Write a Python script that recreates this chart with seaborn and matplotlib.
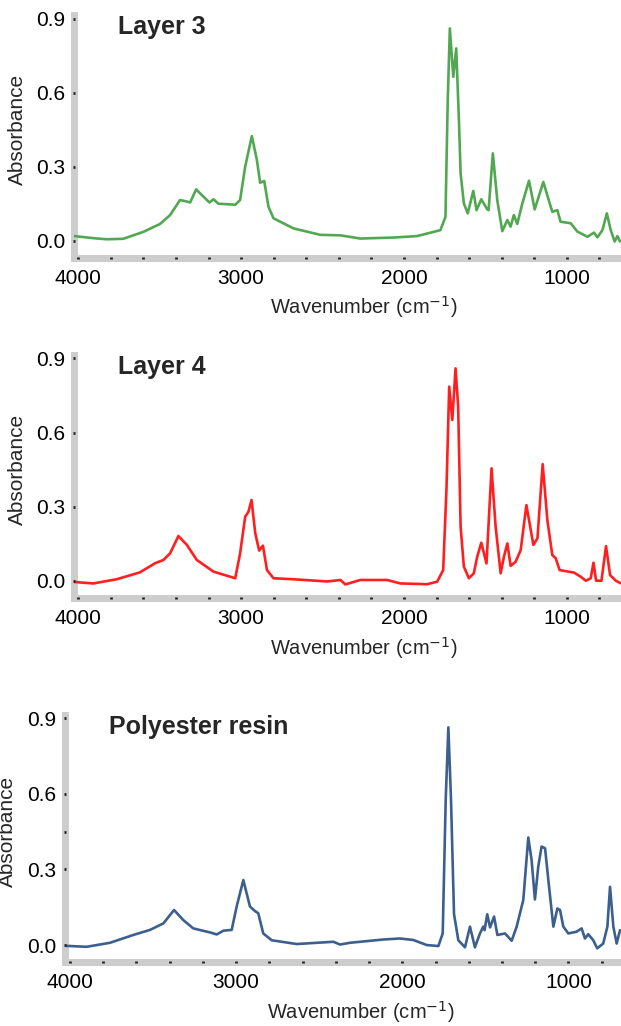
import numpy as np
import pandas as pd
import matplotlib
matplotlib.use("Agg")
import matplotlib.pyplot as plt
from matplotlib.ticker import MultipleLocator, FixedLocator
import seaborn as sns

# spectra (wavenumber in cm-1, absorbance)
layer3_wn = [4026, 3900, 3825, 3723, 3600, 3498, 3436, 3375, 3340, 3313, 3276, 3241, 3194, 3170,
             3139, 3036, 3006, 2975, 2934, 2903, 2883, 2858, 2832, 2801, 2678, 2514, 2391, 2268,
             2063, 1919, 1776, 1745, 1731, 1718, 1697, 1679, 1663, 1652, 1632, 1608, 1574, 1554,
             1525, 1488, 1480, 1454, 1427, 1396, 1365, 1345, 1325, 1304, 1273, 1232, 1197, 1144,
             1089, 1058, 1038, 976, 935, 873, 833, 812, 781, 754, 730, 706, 689, 673]
layer3_abs = [0.019, 0.010, 0.006, 0.008, 0.036, 0.068, 0.104, 0.165, 0.160, 0.155, 0.208, 0.185,
              0.155, 0.168, 0.150, 0.146, 0.165, 0.300, 0.424, 0.327, 0.235, 0.242, 0.138, 0.091,
              0.050, 0.024, 0.022, 0.009, 0.013, 0.019, 0.043, 0.097, 0.570, 0.860, 0.664, 0.779,
              0.502, 0.273, 0.151, 0.111, 0.202, 0.124, 0.168, 0.127, 0.124, 0.354, 0.165, 0.039,
              0.084, 0.057, 0.104, 0.068, 0.151, 0.243, 0.127, 0.238, 0.117, 0.124, 0.077, 0.071,
              0.037, 0.016, 0.033, 0.014, 0.043, 0.111, 0.043, -0.003, 0.019, -0.003]

layer4_wn = [4026, 3908, 3764, 3621, 3528, 3477, 3436, 3385, 3333, 3272, 3170, 3036, 3006, 2975,
             2955, 2936, 2913, 2889, 2866, 2841, 2801, 2678, 2473, 2390, 2360, 2268, 2103, 2022,
             1857, 1796, 1759, 1739, 1722, 1703, 1683, 1667, 1652, 1632, 1601, 1571, 1550, 1525,
             1493, 1462, 1437, 1406, 1386, 1365, 1345, 1314, 1283, 1248, 1205, 1180, 1148, 1119,
             1089, 1068, 1044, 956, 914, 883, 853, 836, 820, 787, 759, 734, 699, 670]
layer4_abs = [-0.005, -0.011, 0.006, 0.034, 0.071, 0.084, 0.111, 0.181, 0.145, 0.084, 0.037, 0.010,
              0.111, 0.259, 0.279, 0.327, 0.192, 0.122, 0.142, 0.043, 0.010, 0.006, -0.003, 0.003,
              -0.015, 0.003, 0.003, -0.011, -0.014, -0.004, 0.043, 0.367, 0.786, 0.651, 0.860,
              0.705, 0.219, 0.057, 0.010, 0.030, 0.097, 0.154, 0.070, 0.455, 0.219, 0.030, 0.097,
              0.151, 0.060, 0.077, 0.124, 0.306, 0.145, 0.172, 0.472, 0.244, 0.104, 0.091, 0.043,
              0.033, 0.016, 0.000, 0.010, 0.073, 0.000, 0.000, 0.140, 0.023, 0.000, -0.010]

resin_wn = [4030, 3900, 3759, 3619, 3519, 3438, 3374, 3318, 3258, 3157, 3117, 3077, 3027, 2997,
            2957, 2917, 2887, 2867, 2837, 2786, 2636, 2415, 2375, 2315, 2114, 2014, 1934, 1853,
            1783, 1757, 1739, 1723, 1707, 1689, 1663, 1623, 1593, 1563, 1533, 1513, 1505, 1489,
            1472, 1448, 1428, 1382, 1342, 1312, 1272, 1242, 1222, 1202, 1182, 1162, 1141, 1117,
            1091, 1067, 1051, 1031, 1001, 951, 921, 901, 881, 851, 827, 791, 766, 750, 730, 710, 690]
resin_abs = [-0.003, -0.007, 0.009, 0.040, 0.060, 0.086, 0.139, 0.099, 0.066, 0.050, 0.042, 0.057,
             0.060, 0.153, 0.258, 0.153, 0.135, 0.126, 0.046, 0.019, 0.004, 0.013, 0.002, 0.009,
             0.022, 0.026, 0.020, 0.000, -0.004, 0.046, 0.576, 0.864, 0.576, 0.123, 0.019, -0.009,
             0.073, -0.009, 0.046, 0.073, 0.059, 0.122, 0.070, 0.113, 0.040, 0.046, 0.017, 0.073,
             0.179, 0.427, 0.337, 0.181, 0.311, 0.391, 0.384, 0.231, 0.073, 0.145, 0.139, 0.073,
             0.046, 0.053, 0.066, 0.026, 0.043, 0.019, -0.013, 0.006, 0.073, 0.231, 0.073, 0.006,
             0.059]

titles = ["Layer 3", "Layer 4", "Polyester resin"]
colors = ["#52a852", "#ff1f1f", "#3c5f8e"]

sns.set_style("white")
plt.rcParams['font.family'] = ['Liberation Sans', 'DejaVu Sans']

fig = plt.figure(figsize=(6.21, 10.26), dpi=100)

# axes boxes [left, bottom, width, height] and data limits for each panel
boxes = [[0.1192, 0.7485, 0.8808, 0.2368],
         [0.1192, 0.4169, 0.8808, 0.2371],
         [0.1047, 0.0627, 0.8953, 0.2404]]
xlims = [(4026, 667), (4026, 667), (4030, 684)]
ylims = [(-0.070, 0.914), (-0.071, 0.914), (-0.066, 0.913)]
label_x = [0.530, 0.530, 0.532]

spectra = [(layer3_wn, layer3_abs), (layer4_wn, layer4_abs), (resin_wn, resin_abs)]

for i, (wn, ab) in enumerate(spectra):
    ax = fig.add_axes(boxes[i])
    df = pd.DataFrame({"wn": wn, "abs": ab})
    sns.lineplot(data=df, x="wn", y="abs", ax=ax, color=colors[i], linewidth=1.9,
                 estimator=None, sort=False)
    ax.set_xlim(*xlims[i])
    ax.set_ylim(*ylims[i])

    # thick grey axis bars with small dark dot ticks on top of them
    for side in ["top", "right"]:
        ax.spines[side].set_visible(False)
    for side in ["left", "bottom"]:
        ax.spines[side].set_color("#cdcdcd")
        ax.spines[side].set_linewidth(5)
        ax.spines[side].set_zorder(0.5)
    ax.xaxis.set_zorder(3)
    ax.yaxis.set_zorder(3)

    ax.xaxis.set_major_locator(FixedLocator([4000, 3000, 2000, 1000]))
    ax.xaxis.set_minor_locator(MultipleLocator(200))
    ax.yaxis.set_major_locator(FixedLocator([0.0, 0.3, 0.6, 0.9]))
    if i == 2:
        ax.yaxis.set_minor_locator(FixedLocator([0.45]))
    ax.tick_params(axis="both", which="both", direction="inout", length=2.0, width=2.0,
                   color="#222222", labelsize=15, labelcolor="black",
                   bottom=True, left=True, top=False, right=False)
    ax.tick_params(axis="x", which="major", pad=7)
    ax.tick_params(axis="y", which="major", pad=5)
    ax.set_yticklabels(["0.0", "0.3", "0.6", "0.9"])

    ax.set_xlabel("Wavenumber (cm$^{-1}$)", fontsize=14.5)
    ax.xaxis.set_label_coords(label_x[i], -0.15)
    ax.set_ylabel("Absorbance", fontsize=15)
    ax.yaxis.set_label_coords(-0.086, 0.53)

    ax.text(0.080, 0.95, titles[i], transform=ax.transAxes, fontsize=18,
            fontweight="bold", ha="left", va="center")

fig.savefig("out.png", dpi=100)
